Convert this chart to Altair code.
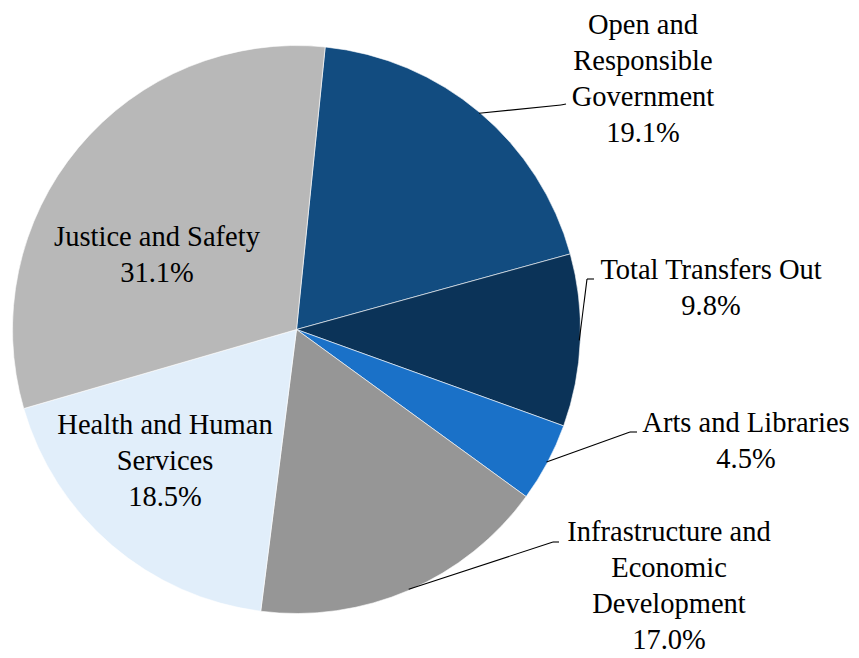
import math
import altair as alt
import pandas as pd

# ---- data ----
categories = ["Open and Responsible Government", "Total Transfers Out", "Arts and Libraries",
              "Infrastructure and Economic Development", "Health and Human Services", "Justice and Safety"]
values = [19.1, 9.8, 4.5, 17.0, 18.5, 31.1]
label_lines = ["Open and\nResponsible\nGovernment", "Total Transfers Out", "Arts and Libraries",
               "Infrastructure and\nEconomic\nDevelopment", "Health and Human\nServices", "Justice and Safety"]
colors = ["#124C80", "#0B3358", "#1A71C8", "#969696", "#E1EEFA", "#B8B8B8"]

# ---- layout (chart pixel coordinates) ----
CX, CY, R = 288.5, 321.5, 284
START = math.radians(5.8)
label_pos = {  # centre of the first text line
    0: (635, 17), 1: (703, 262), 2: (738, 415), 3: (661, 524), 4: (157, 417), 5: (149, 229)}
leader = {  # elbow, end
    0: ((553, 97), (558, 96)), 1: ((579, 271), (586, 271)),
    2: ((622, 424), (629, 424)), 3: ((545, 534), (551, 534))}

total = sum(values)
df = pd.DataFrame({"category": categories, "value": values, "idx": range(len(values))})

rows, segs = [], []
cum = 0.0
for i, v in enumerate(values):
    mid = START + 2 * math.pi * (cum + v / 2) / total
    cum += v
    lx, ly = label_pos[i]
    rows.append({"text": f"{label_lines[i]}\n{v:.1f}%", "x": lx, "y": ly})
    if i in leader:
        sx, sy = CX + (R - 1) * math.sin(mid), CY - (R - 1) * math.cos(mid)
        (ex, ey), (fx, fy) = leader[i]
        segs.append({"x": sx, "y": sy, "x2": ex, "y2": ey})
        segs.append({"x": ex, "y": ey, "x2": fx, "y2": fy})
lab = pd.DataFrame(rows)
seg = pd.DataFrame(segs)

pie = alt.Chart(df).mark_arc(outerRadius=R, stroke="#ffffff", strokeWidth=0.6).encode(
    theta=alt.Theta("value:Q", stack=True, scale=alt.Scale(range=[START, START + 2 * math.pi])),
    color=alt.Color("category:N", scale=alt.Scale(domain=categories, range=colors), legend=None),
    order=alt.Order("idx:Q"),
    x=alt.value(CX), y=alt.value(CY),
)

lines = alt.Chart(seg).mark_rule(color="#000000", strokeWidth=1.1).encode(
    x=alt.X("x:Q", scale=None), y=alt.Y("y:Q", scale=None),
    x2="x2:Q", y2="y2:Q",
)

texts = alt.Chart(lab).mark_text(
    font="Liberation Serif", fontSize=28.5, lineHeight=36, lineBreak="\n",
    align="center", baseline="middle", color="#000000",
).encode(x=alt.X("x:Q", scale=None), y=alt.Y("y:Q", scale=None), text="text:N")

chart = alt.layer(pie, lines, texts).properties(
    width=843, height=646, autosize="none", padding=0,
).configure_view(stroke=None)

chart.save("out.html", embed_options={"renderer": "svg", "actions": False})
